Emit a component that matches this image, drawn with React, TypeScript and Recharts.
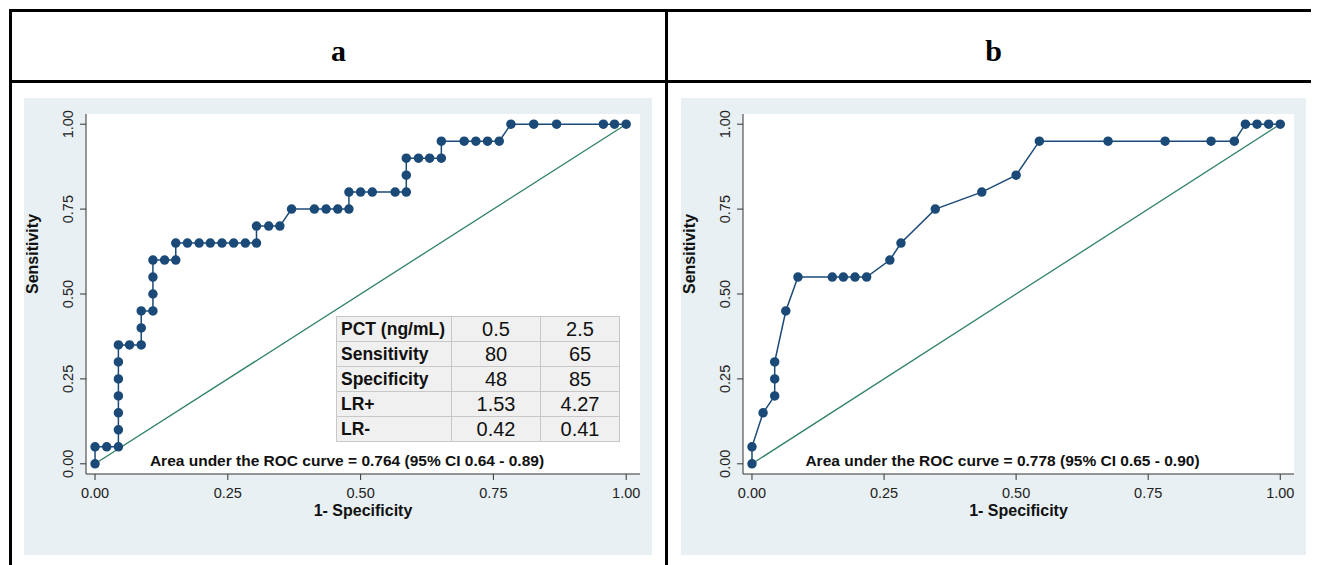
import React from 'react';
import { LineChart, Line, XAxis, YAxis, CartesianGrid } from 'recharts';

const rocA = [
  [0, 0], [0, 0.05], [0.022, 0.05], [0.044, 0.05], [0.044, 0.1], [0.044, 0.15], [0.044, 0.2],
  [0.044, 0.25], [0.044, 0.3], [0.044, 0.35], [0.065, 0.35], [0.087, 0.35], [0.087, 0.4],
  [0.087, 0.45], [0.109, 0.45], [0.109, 0.5], [0.109, 0.55], [0.109, 0.6], [0.131, 0.6],
  [0.152, 0.6], [0.152, 0.65], [0.174, 0.65], [0.196, 0.65], [0.217, 0.65], [0.239, 0.65],
  [0.261, 0.65], [0.283, 0.65], [0.304, 0.65], [0.304, 0.7], [0.327, 0.7], [0.348, 0.7],
  [0.37, 0.75], [0.413, 0.75], [0.435, 0.75], [0.457, 0.75], [0.478, 0.75], [0.478, 0.8],
  [0.5, 0.8], [0.522, 0.8], [0.565, 0.8], [0.586, 0.8], [0.586, 0.85], [0.586, 0.9],
  [0.609, 0.9], [0.63, 0.9], [0.652, 0.9], [0.652, 0.95], [0.695, 0.95], [0.717, 0.95],
  [0.739, 0.95], [0.761, 0.95], [0.783, 1], [0.826, 1], [0.869, 1], [0.957, 1], [0.978, 1], [1, 1],
].map(([x, y]) => ({ x, y }));

const rocB = [
  [0, 0], [0, 0.05], [0.021, 0.15], [0.043, 0.2], [0.043, 0.25], [0.043, 0.3], [0.064, 0.45],
  [0.087, 0.55], [0.152, 0.55], [0.173, 0.55], [0.195, 0.55], [0.217, 0.55], [0.261, 0.6],
  [0.282, 0.65], [0.347, 0.75], [0.435, 0.8], [0.5, 0.85], [0.544, 0.95], [0.674, 0.95],
  [0.782, 0.95], [0.869, 0.95], [0.913, 0.95], [0.934, 1], [0.956, 1], [0.978, 1], [1, 1],
].map(([x, y]) => ({ x, y }));

const diagonal = [{ x: 0, y: 0 }, { x: 1, y: 1 }];
const ticks = [0, 0.25, 0.5, 0.75, 1];
const tableRows = [
  ['PCT (ng/mL)', '0.5', '2.5'],
  ['Sensitivity', '80', '65'],
  ['Specificity', '48', '85'],
  ['LR+', '1.53', '4.27'],
  ['LR-', '0.42', '0.41'],
];

const font = 'Arial, "Liberation Sans", sans-serif';
const navy = '#1b4a78';

const YTick = (props: any) => {
  const { x, y, payload } = props;
  return (
    <text x={x - 5} y={y} transform={`rotate(-90 ${x - 5} ${y})`} textAnchor="middle"
      style={{ fontSize: 14.5, fontFamily: font }} fill="#222">
      {payload.value.toFixed(2)}
    </text>
  );
};

const XTick = (props: any) => {
  const { x, y, payload } = props;
  return (
    <text x={x} y={y + 16} textAnchor="middle" style={{ fontSize: 14.5, fontFamily: font }} fill="#222">
      {payload.value.toFixed(2)}
    </text>
  );
};

function Roc({ data, width, auc }: { data: { x: number; y: number }[]; width: number; auc: string }) {
  return (
    <div style={{ position: 'relative', width, height: 457, background: '#e8f0f3' }}>
      <LineChart width={width} height={457} margin={{ top: 16, right: 12, left: 0, bottom: 31 }}>
        <rect x={62} y={16} width={width - 74} height={360} fill="#fff" />
        <CartesianGrid stroke="#e3edf2" horizontalValues={ticks} verticalValues={ticks} />
        <XAxis type="number" dataKey="x" domain={[-0.017, 1.026]} ticks={ticks} allowDataOverflow
          height={50} stroke="#333" tickSize={6} tick={<XTick />}
          label={{ value: '1- Specificity', position: 'insideBottom', offset: 8, fontSize: 16, fontWeight: 'bold', fontFamily: font, fill: '#111' }} />
        <YAxis type="number" dataKey="y" domain={[-0.03, 1.03]} ticks={ticks} allowDataOverflow
          width={62} stroke="#333" tickSize={6} tick={<YTick />}
          label={{ value: 'Sensitivity', angle: -90, position: 'insideLeft', offset: 8, fontSize: 16, fontWeight: 'bold', fontFamily: font, fill: '#111' }} />
        <Line data={diagonal} dataKey="y" stroke="#2f8068" strokeWidth={1.3} dot={false} isAnimationActive={false} />
        <Line data={data} dataKey="y" stroke={navy} strokeWidth={1.5}
          dot={{ r: 4, fill: navy, stroke: navy }} isAnimationActive={false} />
      </LineChart>
      <div style={{ position: 'absolute', left: 0, width: width + 18, top: 354, textAlign: 'center',
        fontFamily: font, fontWeight: 'bold', fontSize: 15.5, color: '#111' }}>{auc}</div>
    </div>
  );
}

const cell: React.CSSProperties = { border: '1px solid #c8c8c8', padding: '0 4px', height: 24, whiteSpace: 'nowrap' };

export default function App() {
  return (
    <div style={{ position: 'relative', width: 1319, height: 565 }}>
      <div style={{ position: 'absolute', left: 1, top: 1, width: 1310, height: 560,
        borderLeft: '3px solid #000', borderTop: '3px solid #000', borderRight: '3px solid #000' }} />
      <div style={{ position: 'absolute', left: 1, top: 72, width: 1316, height: 3, background: '#000' }} />
      <div style={{ position: 'absolute', left: 657, top: 1, width: 3, height: 560, background: '#000' }} />
      {['a', 'b'].map((t, i) => (
        <div key={t} style={{ position: 'absolute', left: i ? 660 : 4, width: i ? 651 : 653, top: 26,
          textAlign: 'center', fontFamily: '"Liberation Serif", serif', fontWeight: 'bold', fontSize: 30 }}>{t}</div>
      ))}
      <div style={{ position: 'absolute', left: 16, top: 90 }}>
        <Roc data={rocA} width={628} auc="Area under the ROC curve = 0.764 (95% CI 0.64 - 0.89)" />
        <table style={{ position: 'absolute', left: 312, top: 218, borderCollapse: 'collapse',
          background: '#f0f0f0', fontFamily: font, fontSize: 20, color: '#111' }}>
          <tbody>
            {tableRows.map((r) => (
              <tr key={r[0]}>
                <td style={{ ...cell, width: 106, fontWeight: 'bold', fontSize: 17.5 }}>{r[0]}</td>
                <td style={{ ...cell, width: 80, textAlign: 'center' }}>{r[1]}</td>
                <td style={{ ...cell, width: 70, textAlign: 'center' }}>{r[2]}</td>
              </tr>
            ))}
          </tbody>
        </table>
      </div>
      <div style={{ position: 'absolute', left: 673, top: 90 }}>
        <Roc data={rocB} width={625} auc="Area under the ROC curve = 0.778 (95% CI 0.65 - 0.90)" />
      </div>
    </div>
  );
}
